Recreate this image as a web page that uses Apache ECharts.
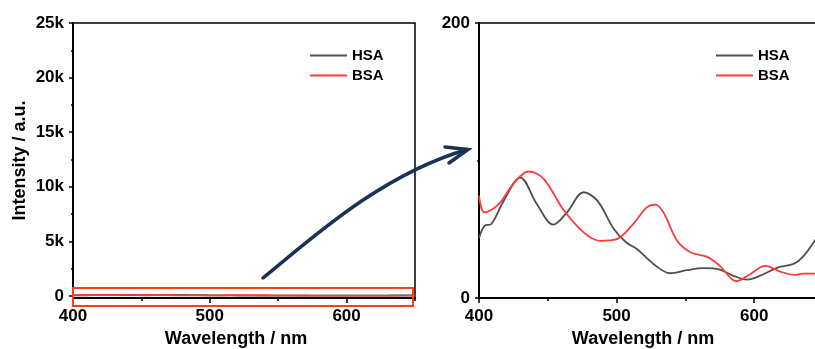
<!DOCTYPE html>
<html>
<head>
<meta charset="utf-8">
<script src="https://cdn.jsdelivr.net/npm/echarts@6/dist/echarts.min.js"></script>
<style>
    html, body { margin: 0; padding: 0; background: #fff; }
    #chart { width: 815px; height: 349px; }
</style>
</head>
<body>
<div id="chart"></div>
<script>
const hsaWavelength = [400, 404, 409, 418, 430, 442, 454, 464, 476, 486, 498, 507, 515, 527, 539, 551, 563, 575, 585, 595, 604, 617, 629, 636, 644, 650];
const hsaIntensity = [43.6, 52.5, 53.8, 70.8, 87.6, 68.4, 53.3, 62.3, 76.9, 70.8, 50.1, 40.4, 35.5, 24.6, 18.0, 20.2, 21.7, 20.7, 16.1, 13.4, 16.1, 22.1, 25.0, 30.7, 41.6, 50.0];
const bsaWavelength = [400, 404, 414, 425, 436, 447, 461, 476, 488, 500, 512, 522, 528, 534, 544, 554, 566, 575, 587, 597, 608, 619, 629, 636, 644, 650];
const bsaIntensity = [74.5, 62.3, 67.9, 83.0, 92.0, 86.6, 64.7, 47.7, 41.6, 42.8, 53.8, 65.9, 67.9, 62.3, 41.6, 33.1, 29.9, 23.4, 12.2, 17.3, 23.4, 19.2, 16.8, 17.7, 17.7, 17.5];

// tick labels
const xMajorTicks = [400, 500, 600];
const xMinorTicks = [450, 550, 650];
const leftYMajorTicks = [0, 5000, 10000, 15000, 20000, 25000];
const leftYMinorTicks = [2500, 7500, 12500, 17500, 22500];
const rightYMajorTicks = [0, 200];
const rightYMinorTicks = [100];

const FONT = "'Liberation Sans', Arial, sans-serif";
const HSA_COLOR = '#4f4f4f';
const BSA_COLOR = '#ff3a3a';

const pairs = (xs, ys) => xs.map((x, i) => [x, ys[i]]);

const lineAxis = { show: true, onZero: false, lineStyle: { color: '#000', width: 2 } };
const labelStyle = { color: '#000', fontSize: 17, fontWeight: 'bold', fontFamily: FONT };

function xAxisPair(gridIndex) {
    return [
        {
            type: 'value', gridIndex, min: 400, max: 650,
            name: 'Wavelength / nm', nameLocation: 'middle', nameGap: 31,
            nameTextStyle: { color: '#000', fontSize: 18, fontWeight: 'bold', fontFamily: FONT, padding: [0, 16, 0, 0] },
            axisLine: lineAxis,
            axisTick: { show: true, length: 5, customValues: xMajorTicks, lineStyle: { color: '#000', width: 1.5 } },
            axisLabel: { ...labelStyle, margin: 10, customValues: xMajorTicks },
            splitLine: { show: false },
        },
        {
            type: 'value', gridIndex, min: 400, max: 650, position: 'bottom',
            axisLine: { show: false, onZero: false },
            axisTick: { show: true, length: 3, customValues: xMinorTicks, lineStyle: { color: '#000', width: 1.5 } },
            axisLabel: { show: false },
            splitLine: { show: false },
        },
    ];
}

function yAxisPair(gridIndex, min, max, major, minor, fmt, name) {
    return [
        {
            type: 'value', gridIndex, min, max,
            name, nameLocation: 'middle', nameGap: 44,
            nameTextStyle: { color: '#000', fontSize: 18, fontWeight: 'bold', fontFamily: FONT },
            axisLine: lineAxis,
            axisTick: { show: true, length: 4, customValues: major, lineStyle: { color: '#000', width: 1.5 } },
            axisLabel: { ...labelStyle, margin: 9, customValues: major, formatter: fmt },
            splitLine: { show: false },
        },
        {
            type: 'value', gridIndex, min, max, position: 'left',
            axisLine: { show: false },
            axisTick: { show: true, length: 2, customValues: minor, lineStyle: { color: '#000', width: 1.5 } },
            axisLabel: { show: false },
            splitLine: { show: false },
        },
    ];
}

function legendAt(left) {
    return {
        left, top: 43, orient: 'vertical', icon: 'rect',
        itemWidth: 37, itemHeight: 2, itemGap: 5,
        data: ['HSA', 'BSA'],
        textStyle: { color: '#000', fontSize: 15, fontWeight: 'bold', fontFamily: FONT },
    };
}

function spectrum(name, data, color, xi, yi) {
    return {
        name, type: 'line', data, xAxisIndex: xi, yAxisIndex: yi,
        smooth: 0.35, symbol: 'none', color,
        lineStyle: { color, width: 1.8 },
    };
}

const chart = echarts.init(document.getElementById('chart'), null, { renderer: 'canvas' });

const gridBase = {
    top: 23, bottom: 51, show: true, borderColor: '#000', borderWidth: 1.5,
    backgroundColor: 'transparent', containLabel: false, outerBoundsMode: 'none',
};

const option = {
    backgroundColor: '#fff',
    animation: false,
    grid: [
        { ...gridBase, left: 73, width: 342 },
        { ...gridBase, left: 479, right: -8 },
    ],
    legend: [legendAt(305), legendAt(711)],
    xAxis: [...xAxisPair(0), ...xAxisPair(1)],
    yAxis: [
        ...yAxisPair(0, -200, 25000, leftYMajorTicks, leftYMinorTicks,
            (v) => (v === 0 ? '0' : v / 1000 + 'k'), 'Intensity / a.u.'),
        ...yAxisPair(1, 0, 200, rightYMajorTicks, rightYMinorTicks, (v) => String(v), ''),
    ],
    series: [
        spectrum('HSA', pairs(hsaWavelength, hsaIntensity), HSA_COLOR, 0, 0),
        spectrum('BSA', pairs(bsaWavelength, bsaIntensity), BSA_COLOR, 0, 0),
        spectrum('HSA', pairs(hsaWavelength, hsaIntensity), HSA_COLOR, 2, 2),
        spectrum('BSA', pairs(bsaWavelength, bsaIntensity), BSA_COLOR, 2, 2),
    ],
    // zoom box + arrow annotations
    graphic: [
        {
            type: 'rect', shape: { x: 73, y: 288, width: 340, height: 18 },
            style: { fill: 'none', stroke: '#ff3d17', lineWidth: 2 }, z: 100,
        },
        {
            type: 'bezierCurve',
            shape: { x1: 263, y1: 278, cpx1: 310, cpy1: 240, cpx2: 380, cpy2: 175, x2: 467, y2: 149.5 },
            style: { fill: 'none', stroke: '#1c3156', lineWidth: 3.5, lineCap: 'round' }, z: 100,
        },
        {
            type: 'polyline', shape: { points: [[445, 147], [468, 149.5], [449, 163]] },
            style: { fill: 'none', stroke: '#1c3156', lineWidth: 3.5, lineCap: 'round', lineJoin: 'miter' }, z: 100,
        },
    ],
};

chart.setOption(option);
</script>
</body>
</html>
